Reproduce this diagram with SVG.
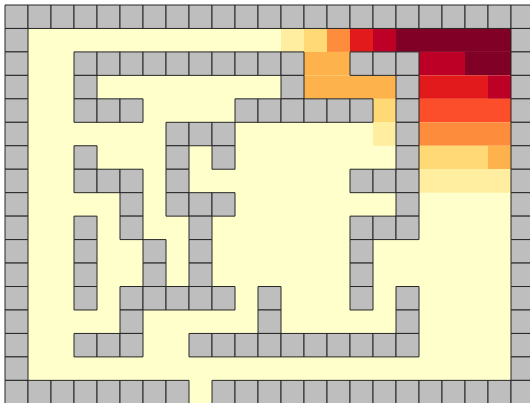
<svg xmlns="http://www.w3.org/2000/svg" width="530" height="403" viewBox="0 0 530 403">
<style>
.w{fill:#bebebe;stroke:#262626;stroke-width:1;vector-effect:non-scaling-stroke}
</style>
<rect width="530" height="403" fill="#ffffff"/>
<g transform="translate(5,5) scale(23,23.46)">
<rect width="23" height="17" fill="#ffffcc"/>
<g id="heat">
<rect x="12" y="1" width="1" height="1" fill="#ffeda0"/>
<rect x="13" y="1" width="1" height="1" fill="#fed976"/>
<rect x="14" y="1" width="1" height="1" fill="#fd8d3c"/>
<rect x="15" y="1" width="1" height="1" fill="#e31a1c"/>
<rect x="16" y="1" width="1" height="1" fill="#bd0026"/>
<rect x="17" y="1" width="5" height="1" fill="#800026"/>
<rect x="13" y="2" width="2" height="1" fill="#feb24c"/>
<rect x="18" y="2" width="2" height="1" fill="#bd0026"/>
<rect x="20" y="2" width="2" height="1" fill="#800026"/>
<rect x="13" y="3" width="4" height="1" fill="#feb24c"/>
<rect x="18" y="3" width="3" height="1" fill="#e31a1c"/>
<rect x="21" y="3" width="1" height="1" fill="#bd0026"/>
<rect x="16" y="4" width="1" height="1" fill="#fed976"/>
<rect x="18" y="4" width="4" height="1" fill="#fc4e2a"/>
<rect x="16" y="5" width="1" height="1" fill="#ffeda0"/>
<rect x="18" y="5" width="4" height="1" fill="#fd8d3c"/>
<rect x="18" y="6" width="3" height="1" fill="#fed976"/>
<rect x="21" y="6" width="1" height="1" fill="#feb24c"/>
<rect x="18" y="7" width="4" height="1" fill="#ffeda0"/>
</g>
<g id="walls">
<!-- row 0 -->
<rect class="w" x="0" y="0" width="1" height="1"/><rect class="w" x="1" y="0" width="1" height="1"/><rect class="w" x="2" y="0" width="1" height="1"/><rect class="w" x="3" y="0" width="1" height="1"/><rect class="w" x="4" y="0" width="1" height="1"/><rect class="w" x="5" y="0" width="1" height="1"/><rect class="w" x="6" y="0" width="1" height="1"/><rect class="w" x="7" y="0" width="1" height="1"/><rect class="w" x="8" y="0" width="1" height="1"/><rect class="w" x="9" y="0" width="1" height="1"/><rect class="w" x="10" y="0" width="1" height="1"/><rect class="w" x="11" y="0" width="1" height="1"/><rect class="w" x="12" y="0" width="1" height="1"/><rect class="w" x="13" y="0" width="1" height="1"/><rect class="w" x="14" y="0" width="1" height="1"/><rect class="w" x="15" y="0" width="1" height="1"/><rect class="w" x="16" y="0" width="1" height="1"/><rect class="w" x="17" y="0" width="1" height="1"/><rect class="w" x="18" y="0" width="1" height="1"/><rect class="w" x="19" y="0" width="1" height="1"/><rect class="w" x="20" y="0" width="1" height="1"/><rect class="w" x="21" y="0" width="1" height="1"/><rect class="w" x="22" y="0" width="1" height="1"/>
<!-- row 1 -->
<rect class="w" x="0" y="1" width="1" height="1"/><rect class="w" x="22" y="1" width="1" height="1"/>
<!-- row 2 -->
<rect class="w" x="0" y="2" width="1" height="1"/><rect class="w" x="3" y="2" width="1" height="1"/><rect class="w" x="4" y="2" width="1" height="1"/><rect class="w" x="5" y="2" width="1" height="1"/><rect class="w" x="6" y="2" width="1" height="1"/><rect class="w" x="7" y="2" width="1" height="1"/><rect class="w" x="8" y="2" width="1" height="1"/><rect class="w" x="9" y="2" width="1" height="1"/><rect class="w" x="10" y="2" width="1" height="1"/><rect class="w" x="11" y="2" width="1" height="1"/><rect class="w" x="12" y="2" width="1" height="1"/><rect class="w" x="15" y="2" width="1" height="1"/><rect class="w" x="16" y="2" width="1" height="1"/><rect class="w" x="17" y="2" width="1" height="1"/><rect class="w" x="22" y="2" width="1" height="1"/>
<!-- row 3 -->
<rect class="w" x="0" y="3" width="1" height="1"/><rect class="w" x="3" y="3" width="1" height="1"/><rect class="w" x="12" y="3" width="1" height="1"/><rect class="w" x="17" y="3" width="1" height="1"/><rect class="w" x="22" y="3" width="1" height="1"/>
<!-- row 4 -->
<rect class="w" x="0" y="4" width="1" height="1"/><rect class="w" x="3" y="4" width="1" height="1"/><rect class="w" x="4" y="4" width="1" height="1"/><rect class="w" x="5" y="4" width="1" height="1"/><rect class="w" x="10" y="4" width="1" height="1"/><rect class="w" x="11" y="4" width="1" height="1"/><rect class="w" x="12" y="4" width="1" height="1"/><rect class="w" x="13" y="4" width="1" height="1"/><rect class="w" x="14" y="4" width="1" height="1"/><rect class="w" x="15" y="4" width="1" height="1"/><rect class="w" x="17" y="4" width="1" height="1"/><rect class="w" x="22" y="4" width="1" height="1"/>
<!-- row 5 -->
<rect class="w" x="0" y="5" width="1" height="1"/><rect class="w" x="7" y="5" width="1" height="1"/><rect class="w" x="8" y="5" width="1" height="1"/><rect class="w" x="9" y="5" width="1" height="1"/><rect class="w" x="17" y="5" width="1" height="1"/><rect class="w" x="22" y="5" width="1" height="1"/>
<!-- row 6 -->
<rect class="w" x="0" y="6" width="1" height="1"/><rect class="w" x="3" y="6" width="1" height="1"/><rect class="w" x="7" y="6" width="1" height="1"/><rect class="w" x="9" y="6" width="1" height="1"/><rect class="w" x="17" y="6" width="1" height="1"/><rect class="w" x="22" y="6" width="1" height="1"/>
<!-- row 7 -->
<rect class="w" x="0" y="7" width="1" height="1"/><rect class="w" x="3" y="7" width="1" height="1"/><rect class="w" x="4" y="7" width="1" height="1"/><rect class="w" x="5" y="7" width="1" height="1"/><rect class="w" x="7" y="7" width="1" height="1"/><rect class="w" x="15" y="7" width="1" height="1"/><rect class="w" x="16" y="7" width="1" height="1"/><rect class="w" x="17" y="7" width="1" height="1"/><rect class="w" x="22" y="7" width="1" height="1"/>
<!-- row 8 -->
<rect class="w" x="0" y="8" width="1" height="1"/><rect class="w" x="5" y="8" width="1" height="1"/><rect class="w" x="7" y="8" width="1" height="1"/><rect class="w" x="8" y="8" width="1" height="1"/><rect class="w" x="9" y="8" width="1" height="1"/><rect class="w" x="17" y="8" width="1" height="1"/><rect class="w" x="22" y="8" width="1" height="1"/>
<!-- row 9 -->
<rect class="w" x="0" y="9" width="1" height="1"/><rect class="w" x="3" y="9" width="1" height="1"/><rect class="w" x="5" y="9" width="1" height="1"/><rect class="w" x="8" y="9" width="1" height="1"/><rect class="w" x="15" y="9" width="1" height="1"/><rect class="w" x="16" y="9" width="1" height="1"/><rect class="w" x="17" y="9" width="1" height="1"/><rect class="w" x="22" y="9" width="1" height="1"/>
<!-- row 10 -->
<rect class="w" x="0" y="10" width="1" height="1"/><rect class="w" x="3" y="10" width="1" height="1"/><rect class="w" x="6" y="10" width="1" height="1"/><rect class="w" x="8" y="10" width="1" height="1"/><rect class="w" x="15" y="10" width="1" height="1"/><rect class="w" x="22" y="10" width="1" height="1"/>
<!-- row 11 -->
<rect class="w" x="0" y="11" width="1" height="1"/><rect class="w" x="3" y="11" width="1" height="1"/><rect class="w" x="6" y="11" width="1" height="1"/><rect class="w" x="8" y="11" width="1" height="1"/><rect class="w" x="15" y="11" width="1" height="1"/><rect class="w" x="22" y="11" width="1" height="1"/>
<!-- row 12 -->
<rect class="w" x="0" y="12" width="1" height="1"/><rect class="w" x="3" y="12" width="1" height="1"/><rect class="w" x="5" y="12" width="1" height="1"/><rect class="w" x="6" y="12" width="1" height="1"/><rect class="w" x="7" y="12" width="1" height="1"/><rect class="w" x="8" y="12" width="1" height="1"/><rect class="w" x="9" y="12" width="1" height="1"/><rect class="w" x="11" y="12" width="1" height="1"/><rect class="w" x="15" y="12" width="1" height="1"/><rect class="w" x="17" y="12" width="1" height="1"/><rect class="w" x="22" y="12" width="1" height="1"/>
<!-- row 13 -->
<rect class="w" x="0" y="13" width="1" height="1"/><rect class="w" x="5" y="13" width="1" height="1"/><rect class="w" x="11" y="13" width="1" height="1"/><rect class="w" x="17" y="13" width="1" height="1"/><rect class="w" x="22" y="13" width="1" height="1"/>
<!-- row 14 -->
<rect class="w" x="0" y="14" width="1" height="1"/><rect class="w" x="3" y="14" width="1" height="1"/><rect class="w" x="4" y="14" width="1" height="1"/><rect class="w" x="5" y="14" width="1" height="1"/><rect class="w" x="8" y="14" width="1" height="1"/><rect class="w" x="9" y="14" width="1" height="1"/><rect class="w" x="10" y="14" width="1" height="1"/><rect class="w" x="11" y="14" width="1" height="1"/><rect class="w" x="12" y="14" width="1" height="1"/><rect class="w" x="13" y="14" width="1" height="1"/><rect class="w" x="14" y="14" width="1" height="1"/><rect class="w" x="15" y="14" width="1" height="1"/><rect class="w" x="16" y="14" width="1" height="1"/><rect class="w" x="17" y="14" width="1" height="1"/><rect class="w" x="22" y="14" width="1" height="1"/>
<!-- row 15 -->
<rect class="w" x="0" y="15" width="1" height="1"/><rect class="w" x="22" y="15" width="1" height="1"/>
<!-- row 16 -->
<rect class="w" x="0" y="16" width="1" height="1"/><rect class="w" x="1" y="16" width="1" height="1"/><rect class="w" x="2" y="16" width="1" height="1"/><rect class="w" x="3" y="16" width="1" height="1"/><rect class="w" x="4" y="16" width="1" height="1"/><rect class="w" x="5" y="16" width="1" height="1"/><rect class="w" x="6" y="16" width="1" height="1"/><rect class="w" x="7" y="16" width="1" height="1"/><rect class="w" x="9" y="16" width="1" height="1"/><rect class="w" x="10" y="16" width="1" height="1"/><rect class="w" x="11" y="16" width="1" height="1"/><rect class="w" x="12" y="16" width="1" height="1"/><rect class="w" x="13" y="16" width="1" height="1"/><rect class="w" x="14" y="16" width="1" height="1"/><rect class="w" x="15" y="16" width="1" height="1"/><rect class="w" x="16" y="16" width="1" height="1"/><rect class="w" x="17" y="16" width="1" height="1"/><rect class="w" x="18" y="16" width="1" height="1"/><rect class="w" x="19" y="16" width="1" height="1"/><rect class="w" x="20" y="16" width="1" height="1"/><rect class="w" x="21" y="16" width="1" height="1"/><rect class="w" x="22" y="16" width="1" height="1"/>
</g>
</g>
</svg>
